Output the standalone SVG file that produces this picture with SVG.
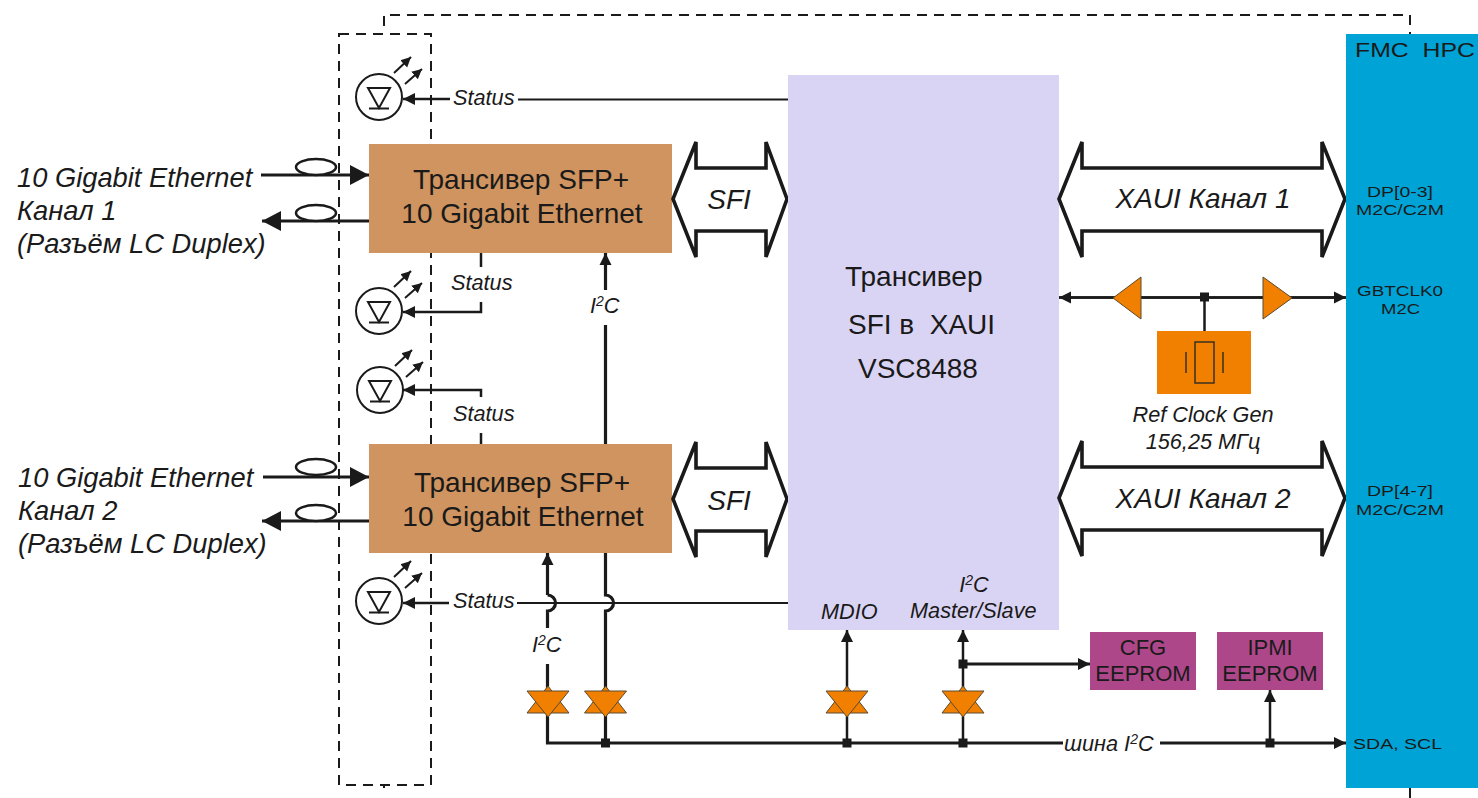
<svg xmlns="http://www.w3.org/2000/svg" width="1478" height="798" viewBox="0 0 1478 798">
<style>
text{font-family:"Liberation Sans",Arial,sans-serif;fill:#1a1a1a}
.i{font-style:italic}
.m{text-anchor:middle}
.w{fill:none;stroke:#1a1a1a;stroke-width:3.2}
.t{fill:none;stroke:#1a1a1a;stroke-width:2.5}
.n{fill:none;stroke:#1a1a1a;stroke-width:2}
.d{fill:none;stroke:#1a1a1a;stroke-width:2;stroke-dasharray:10 7}
.bus{fill:#fff;stroke:#1a1a1a;stroke-width:3.6}
.o{fill:#f28000;stroke:#5a4a30;stroke-width:1}
.j{fill:#1a1a1a}
.a{font-size:21.700px}
.s{font-size:22px}
.f{font-size:15.500px}
.g{font-size:27.300px}
.h{font-size:28px}
</style>
<defs>
<marker id="ah" markerUnits="userSpaceOnUse" markerWidth="14" markerHeight="14" refX="12" refY="7" orient="auto"><path d="M0 1L12 7L0 13Z" fill="#1a1a1a"/></marker>
<marker id="ahb" markerUnits="userSpaceOnUse" markerWidth="20" markerHeight="22" refX="19" refY="11" orient="auto"><path d="M0 1L19 11L0 21Z" fill="#1a1a1a"/></marker>
<marker id="ahs" markerUnits="userSpaceOnUse" markerWidth="12" markerHeight="12" refX="10" refY="6" orient="auto"><path d="M0 1L10 6L0 11Z" fill="#1a1a1a"/></marker>
<g id="led"><circle cx="0" cy="0" r="23" fill="#fff" stroke="#1a1a1a" stroke-width="2"/><path d="M-11 -9H11L0 11Z" class="n"/><path d="M-10 11.500H10" class="n"/><path d="M15 -24L32 -40" class="n" marker-end="url(#ahs)"/><path d="M26 -13L43 -28" class="n" marker-end="url(#ahs)"/></g>
<g id="buf"><path d="M0 -32L21 -5H-21Z" class="o"/><path d="M-21 -27H21L0 -1Z" class="o"/></g>
</defs>
<rect width="1478" height="798" fill="#fff"/>
<g id="frames">
<path d="M384 26V15H1410V40" class="d"/>
<path d="M1410 788V798" class="d"/>
<rect x="339" y="34" width="92" height="751" class="d"/>
<path d="M384 785V788" class="n"/>
</g>
<g id="connectors">
<path d="M261 175H369" class="w" marker-end="url(#ahb)"/>
<path d="M369 221H262" class="w" marker-end="url(#ahb)"/>
<path d="M263 477H369" class="w" marker-end="url(#ahb)"/>
<path d="M369 521H262" class="w" marker-end="url(#ahb)"/>
<path d="M450 99H403" class="t" marker-end="url(#ah)"/>
<path d="M518 99.500H788" class="n"/>
<path d="M481 302V312H403" class="t" marker-end="url(#ah)"/>
<path d="M481 253V267" class="t"/>
<path d="M481 397V390H403" class="t" marker-end="url(#ah)"/>
<path d="M481 433V444" class="t"/>
<path d="M449 603H403" class="t" marker-end="url(#ah)"/>
<path d="M517 603H788" class="n"/>
<path d="M605.500 290V253" class="w" marker-end="url(#ah)"/>
<path d="M605.500 325V595A8 8 0 0 1 605.500 611V691" class="w"/>
<path d="M547.500 595V553" class="w" marker-end="url(#ah)"/>
<path d="M547.500 595A8 8 0 0 1 547.500 611V628" class="w"/>
<path d="M547.500 664V691" class="w"/>
<path d="M547.500 710V743H1063" class="w"/>
<path d="M1160 743H1346" class="w" marker-end="url(#ah)"/>
<path d="M605.500 710V743" class="w"/>
<path d="M847 710V743" class="t"/>
<path d="M847 691V630" class="t" marker-end="url(#ah)"/>
<path d="M963 710V743" class="t"/>
<path d="M963 691V630" class="t" marker-end="url(#ah)"/>
<path d="M963 664H1090" class="w" marker-end="url(#ah)"/>
<path d="M1270 743V690" class="t" marker-end="url(#ah)"/>
<path d="M1059 297.500H1346" class="t" marker-end="url(#ah)"/>
<path d="M1346 297.500H1059" class="t" marker-end="url(#ah)"/>
<path d="M1204.500 297V331" class="t"/>
<rect class="j" x="601" y="738.500" width="9" height="9"/>
<rect class="j" x="842.500" y="738.500" width="9" height="9"/>
<rect class="j" x="958.500" y="738.500" width="9" height="9"/>
<rect class="j" x="1265.500" y="738.500" width="9" height="9"/>
<rect class="j" x="958.500" y="659.500" width="9" height="9"/>
<rect class="j" x="1200" y="292.500" width="9" height="9"/>
</g>
<g id="fiber-left">
<text class="i g" x="17" y="187">10 Gigabit Ethernet</text>
<text class="i g" x="17" y="220">Канал 1</text>
<text class="i g" x="17" y="253">(Разъём LC Duplex)</text>
<ellipse cx="316" cy="167" rx="20" ry="8" fill="#fff" stroke="#1a1a1a" stroke-width="2.500"/>
<ellipse cx="316" cy="213" rx="20" ry="8" fill="#fff" stroke="#1a1a1a" stroke-width="2.500"/>
</g>
<g id="fiber-left-2">
<text class="i g" x="18" y="487">10 Gigabit Ethernet</text>
<text class="i g" x="18" y="520">Канал 2</text>
<text class="i g" x="18" y="553">(Разъём LC Duplex)</text>
<ellipse cx="316" cy="467" rx="20" ry="8" fill="#fff" stroke="#1a1a1a" stroke-width="2.500"/>
<ellipse cx="316" cy="513" rx="20" ry="8" fill="#fff" stroke="#1a1a1a" stroke-width="2.500"/>
</g>
<g id="led1"><use href="#led" x="379" y="97"/><text class="i a" x="453" y="105">Status</text></g>
<g id="led2"><use href="#led" x="379" y="311"/><text class="i a" x="451" y="290">Status</text></g>
<g id="led3"><use href="#led" x="380" y="390"/><text class="i a" x="453" y="421">Status</text></g>
<g id="led4"><use href="#led" x="379" y="601"/><text class="i a" x="453" y="608">Status</text></g>
<g id="sfp1"><rect x="369" y="144" width="303" height="109" fill="#cf945f"/><text class="m h" x="521" y="189">Трансивер SFP+</text><text class="m h" x="522" y="223">10 Gigabit Ethernet</text></g>
<g id="sfp2"><rect x="369" y="444" width="303" height="109" fill="#cf945f"/><text class="m h" x="522" y="492">Трансивер SFP+</text><text class="m h" x="523" y="526">10 Gigabit Ethernet</text></g>
<g id="i2c-labels"><text class="i a" x="590" y="313">I<tspan font-size="14" dy="-7">2</tspan><tspan dy="7">C</tspan></text><text class="i a" x="532" y="652">I<tspan font-size="14" dy="-7">2</tspan><tspan dy="7">C</tspan></text></g>
<g id="sfi1"><path d="M673 199L696 142V168H766V142L787 199L766 257V231H696V257Z" class="bus"/><text class="i m h" x="729" y="209">SFI</text></g>
<g id="sfi2"><path d="M673 499L696 442V468H766V442L787 499L766 557V531H696V557Z" class="bus"/><text class="i m h" x="729" y="510">SFI</text></g>
<g id="vsc"><rect x="788" y="75" width="271" height="555" fill="#dad4f4"/>
<text class="h" x="845" y="286">Трансивер</text>
<text class="h" x="848" y="334" xml:space="preserve">SFI в  XAUI</text>
<text class="h" x="858" y="378">VSC8488</text>
<text class="i a" x="821" y="619">MDIO</text>
<text class="i a m" x="974" y="592">I<tspan font-size="14" dy="-7">2</tspan><tspan dy="7">C</tspan></text>
<text class="i a" x="910" y="618">Master/Slave</text></g>
<g id="xaui1"><path d="M1059 199L1082 142V168H1322V142L1345 199L1322 257V231H1082V257Z" class="bus"/><text class="i m h" x="1203" y="208">XAUI Канал 1</text></g>
<g id="xaui2"><path d="M1059 498L1082 441V467H1322V441L1345 498L1322 556V530H1082V556Z" class="bus"/><text class="i m h" x="1203" y="508">XAUI Канал 2</text></g>
<g id="clk"><path d="M1113 298L1141 277V319Z" class="o"/><path d="M1292 298L1263 277V319Z" class="o"/>
<rect x="1157" y="331" width="94" height="63" fill="#f28000"/>
<rect x="1195" y="342" width="19" height="41" fill="none" stroke="#3a3020" stroke-width="1.500"/>
<path d="M1186 352V373M1223 352V373" stroke="#3a3020" stroke-width="1.500" fill="none"/>
<text class="i m a" x="1203" y="422">Ref Clock Gen</text>
<text class="i m a" x="1203" y="449">156,25 МГц</text></g>
<g id="b1"><use href="#buf" x="548" y="718"/></g>
<g id="b2"><use href="#buf" x="605.500" y="718"/></g>
<g id="b3"><use href="#buf" x="847" y="718"/></g>
<g id="b4"><use href="#buf" x="963" y="718"/></g>
<g id="cfg"><rect x="1090" y="632" width="106" height="58" fill="#ad478a"/><text class="m s" x="1143" y="655">CFG</text><text class="m s" x="1143" y="681">EEPROM</text></g>
<g id="ipmi"><rect x="1217" y="632" width="106" height="58" fill="#ad478a"/><text class="m s" x="1270" y="655">IPMI</text><text class="m s" x="1270" y="681">EEPROM</text></g>
<g id="fmc"><rect x="1346" y="34" width="132" height="754" fill="#00a3d6"/>
<text font-size="21" x="1355" y="57" xml:space="preserve" textLength="120" lengthAdjust="spacingAndGlyphs">FMC  HPC</text>
<text class="f" x="1367" y="197" textLength="66" lengthAdjust="spacingAndGlyphs">DP[0-3]</text><text class="f" x="1356" y="215" textLength="88" lengthAdjust="spacingAndGlyphs">M2C/C2M</text>
<text class="f" x="1357" y="296" textLength="86" lengthAdjust="spacingAndGlyphs">GBTCLK0</text><text class="f" x="1381" y="314" textLength="39" lengthAdjust="spacingAndGlyphs">M2C</text>
<text class="f" x="1367" y="496" textLength="66" lengthAdjust="spacingAndGlyphs">DP[4-7]</text><text class="f" x="1356" y="515" textLength="88" lengthAdjust="spacingAndGlyphs">M2C/C2M</text>
<text class="f" x="1353" y="749" textLength="89" lengthAdjust="spacingAndGlyphs">SDA, SCL</text></g>
<g id="bus-label"><text class="i a" x="1064" y="751">шина I<tspan font-size="14" dy="-7">2</tspan><tspan dy="7">C</tspan></text></g>
</svg>
